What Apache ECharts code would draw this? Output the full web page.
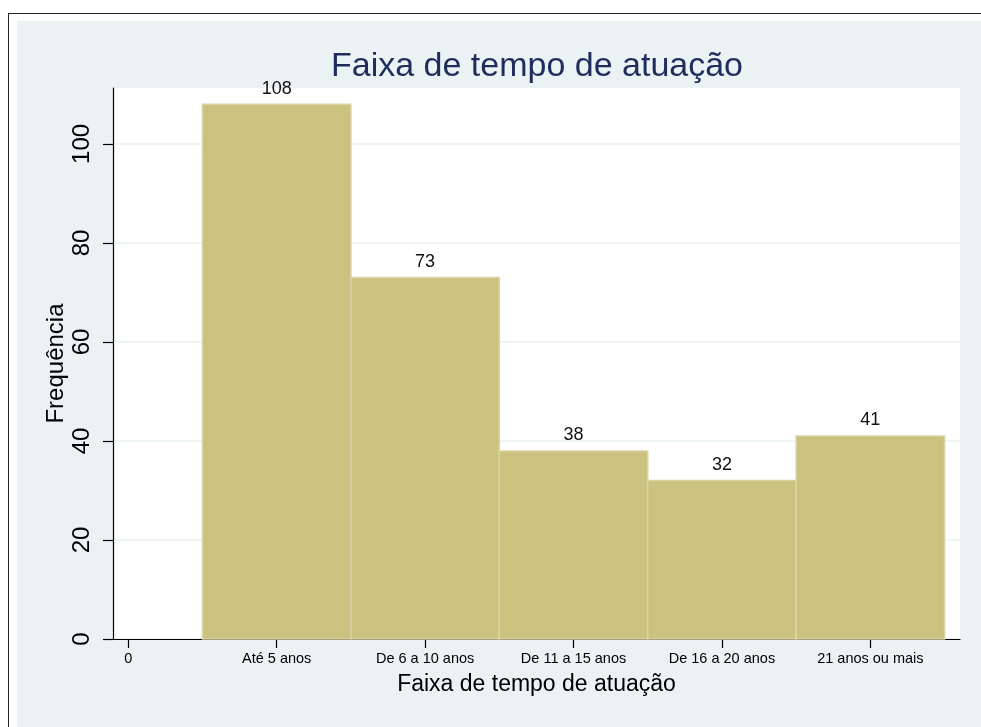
<!DOCTYPE html>
<html>
<head>
<meta charset="utf-8">
<script src="https://cdn.jsdelivr.net/npm/echarts@6/dist/echarts.min.js"></script>
<style>
  html, body { margin: 0; padding: 0; background: #fff; }
  #frame { position: absolute; left: 8px; top: 13px; width: 973px; height: 714px;
           border-left: 1.5px solid #222; border-top: 1.5px solid #222; }
  #chart { position: absolute; left: 17px; top: 21px; width: 964px; height: 706px; background: #EAF2F3; }
</style>
</head>
<body>
<div id="frame"></div>
<div id="chart"></div>
<script>
// dados
var categorias = ['0', 'Até 5 anos', 'De 6 a 10 anos', 'De 11 a 15 anos', 'De 16 a 20 anos', '21 anos ou mais'];
var posicoes = [1, 2, 3, 4, 5];
var frequencias = [108, 73, 38, 32, 41];
var ticksY = [0, 20, 40, 60, 80, 100];

var fonte = 'Liberation Sans, Arial, Helvetica, sans-serif';
var mychart = echarts.init(document.getElementById('chart'));

var dados = posicoes.map(function (p, i) { return [p, frequencias[i]]; });

option = {
    animation: false,
    title: {
        text: 'Faixa de tempo de atuação',
        left: 515,
        top: 24,
        textAlign: 'center',
        textStyle: { color: '#1F2D5C', fontSize: 34, fontWeight: 'normal', fontFamily: fonte }
    },
    grid: {
        left: 96, top: 67, right: 21, bottom: 88,
        show: true, backgroundColor: '#fff', borderWidth: 0
    },
    xAxis: {
        type: 'value',
        min: -0.103,
        max: 5.604,
        name: 'Faixa de tempo de atuação',
        nameLocation: 'middle',
        nameGap: 34,
        nameMoveOverlap: false,
        nameTextStyle: { color: '#000', fontSize: 23, fontFamily: fonte },
        axisLine: { show: true, onZero: false, lineStyle: { color: '#000', width: 1.2 } },
        axisTick: { show: true, length: 9, customValues: [0, 1, 2, 3, 4, 5], lineStyle: { color: '#000', width: 1.2 } },
        axisLabel: {
            customValues: [0, 1, 2, 3, 4, 5],
            margin: 12,
            color: '#000', fontSize: 14.5, fontFamily: fonte,
            formatter: function (v) { return categorias[Math.round(v)]; }
        },
        splitLine: { show: false }
    },
    yAxis: {
        type: 'value',
        min: 0,
        max: 111.3,
        interval: 20,
        name: 'Frequência',
        nameLocation: 'middle',
        nameGap: 45,
        nameMoveOverlap: false,
        nameTextStyle: { color: '#000', fontSize: 24, fontFamily: fonte },
        axisLine: { show: true, onZero: false, lineStyle: { color: '#000', width: 1.2 } },
        axisTick: { show: true, length: 10, customValues: ticksY, lineStyle: { color: '#000', width: 1.2 } },
        axisLabel: {
            customValues: ticksY,
            rotate: 90,
            margin: 19,
            color: '#000', fontSize: 24, fontFamily: fonte
        },
        splitLine: { show: true, lineStyle: { color: '#EAF2F3', width: 1.5 } }
    },
    series: [
        {
            type: 'custom',
            data: dados,
            renderItem: function (params, api) {
                var x = api.value(0), y = api.value(1);
                var p0 = api.coord([x - 0.5, y]);
                var p1 = api.coord([x + 0.5, 0]);
                return {
                    type: 'rect',
                    shape: { x: p0[0], y: p0[1], width: p1[0] - p0[0], height: p1[1] - p0[1] },
                    style: { fill: '#CAC27E', stroke: '#DAD4A2', lineWidth: 1.5 },
                    textContent: {
                        style: { text: String(y), fill: '#111', fontSize: 18, fontFamily: fonte }
                    },
                    textConfig: { position: 'top', distance: 6 }
                };
            }
        }
    ]
};
mychart.setOption(option);
</script>
</body>
</html>
